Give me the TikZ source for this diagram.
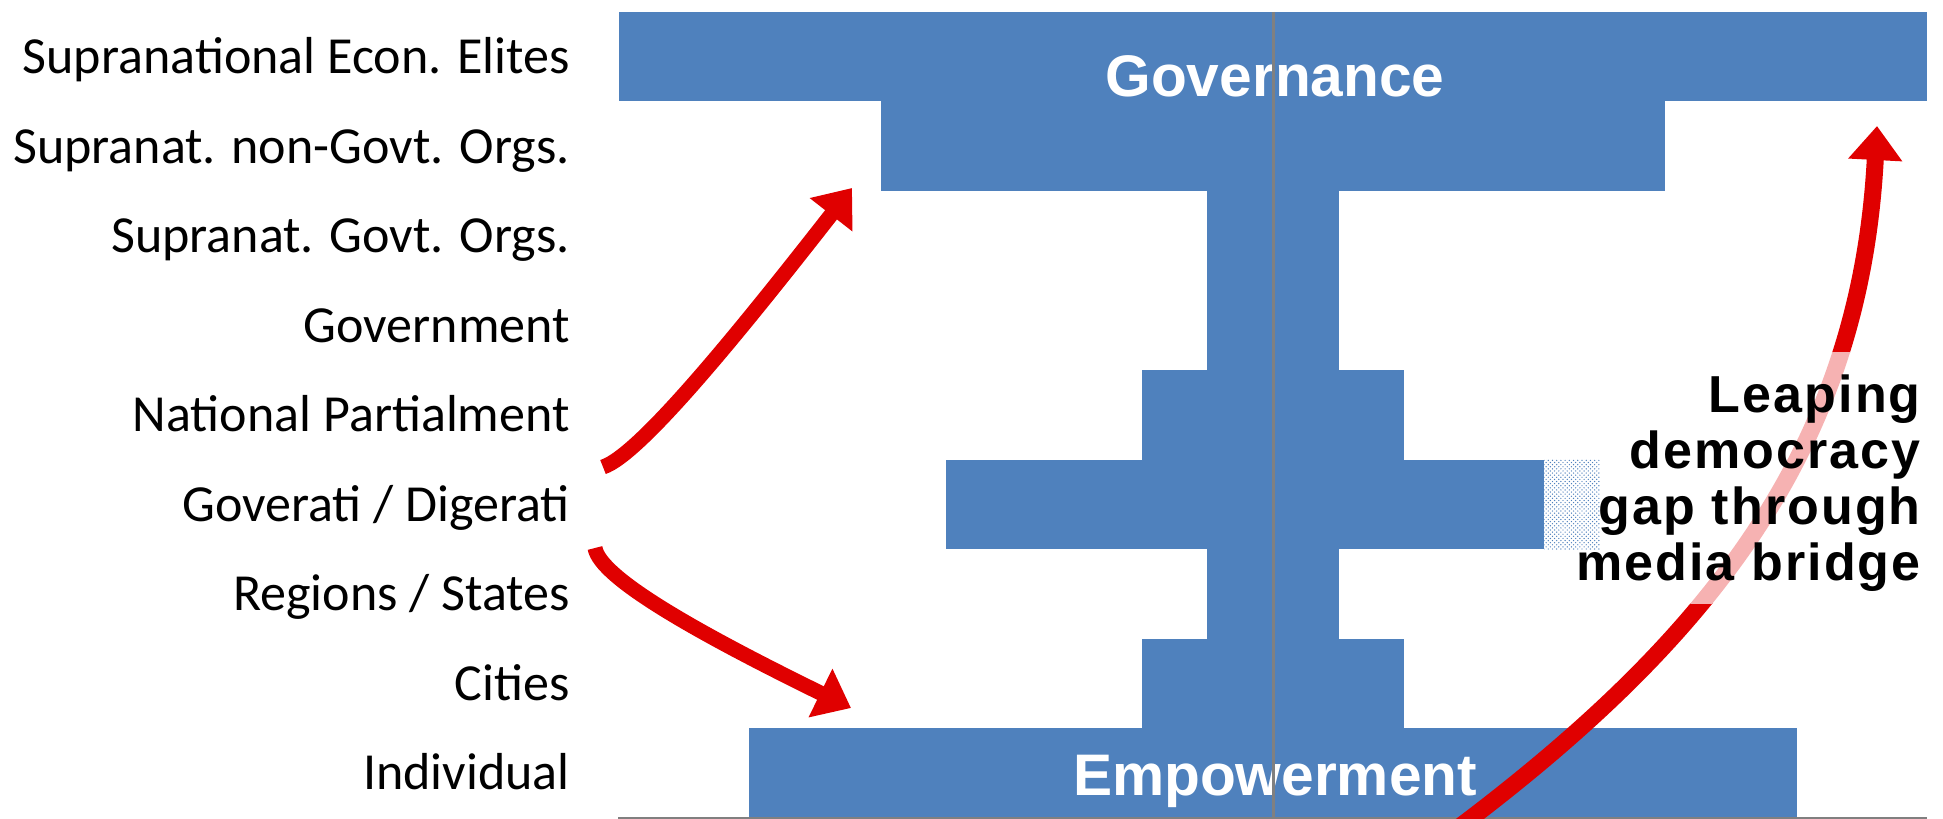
\documentclass[tikz,border=0pt]{standalone}
\usepackage{fontspec}
\setmainfont{Carlito}
\newfontfamily\headfont{Liberation Sans}
\newfontfamily\gapfont[LetterSpace=4]{Liberation Sans}
\usetikzlibrary{arrows.meta,patterns}
\definecolor{barblue}{RGB}{79,129,189}
\definecolor{arrowred}{RGB}{224,0,0}
\definecolor{axisgray}{RGB}{128,128,128}

\begin{document}
\begin{tikzpicture}[x=0.025cm,y=-0.025cm,
    lbl/.style={anchor=base east,inner sep=0pt,font=\fontsize{37}{45}\selectfont},
    bartext/.style={anchor=base,inner sep=0pt,text=white,font=\headfont\bfseries\fontsize{41.7}{50}\selectfont},
    leap/.style={-{Triangle[length=0.85cm,width=1.3cm]},color=arrowred,line width=0.375cm}]
\useasboundingbox (0,0) rectangle (1943,819);

% the stepped bars
\foreach \w [count=\i from 0] in {654,392,66,66,131,327,66,131,524}
    \fill[barblue] (1273-\w,12+89.5*\i) rectangle (1273+\w,101.5+89.5*\i);
% gap on the right of the Goverati bar
\fill[white] (1544,459.5) rectangle (1600,549);
\fill[pattern=crosshatch dots,pattern color=barblue] (1544,459.5) rectangle (1600,549);

\node[bartext] (gov) at (1275,97) {Governance};
\node[bartext] (emp) at (1275,795) {Empowerment};

% axes
\draw[axisgray,line width=0.075cm] (1273,12) -- (1273,818);
\draw[axisgray,line width=0.075cm] (618,818) -- (1927,818);

% levels
\foreach \lab [count=\i from 0] in {Supranational Econ. Elites,Supranat. non-Govt. Orgs.,Supranat. Govt. Orgs.,Government,National Partialment,Goverati / Digerati,Regions / States,Cities,Individual}
    \node[lbl] (lab\i) at (570,73.75+89.5*\i) {\lab};

\coordinate (upTail) at (603,467);
\coordinate (upTip) at (852,188);
\coordinate (downTail) at (595,548);
\coordinate (downTip) at (851,708);
\coordinate (leapTail) at (1458,828);
\coordinate (leapTip) at (1877,126);

\draw[leap] (upTail) .. controls +(37,-12) and +(-111,142) .. (upTip);
\draw[leap] (downTail) .. controls +(5,30) and +(-153,-75) .. (downTip);

% the big arrow, faded where it crosses the text
\begin{scope}
    \clip (0,0) rectangle (1943,352);
    \draw[leap,line width=0.425cm] (leapTail) to[out=37,in=267] (leapTip);
\end{scope}
\begin{scope}
    \clip (0,603) rectangle (1943,830);
    \draw[leap,line width=0.425cm] (leapTail) to[out=37,in=267] (leapTip);
\end{scope}
\begin{scope}
    \clip (0,352) rectangle (1943,603);
    \draw[leap,line width=0.425cm,color=arrowred!30] (leapTail) to[out=37,in=267] (leapTip);
\end{scope}

\node[anchor=north east,inner sep=0pt,align=right,font=\gapfont\bfseries\fontsize{37}{39.8}\selectfont] (gap) at (1921,375) {Leaping\\democracy\\gap through\\media bridge};
\end{tikzpicture}
\end{document}
